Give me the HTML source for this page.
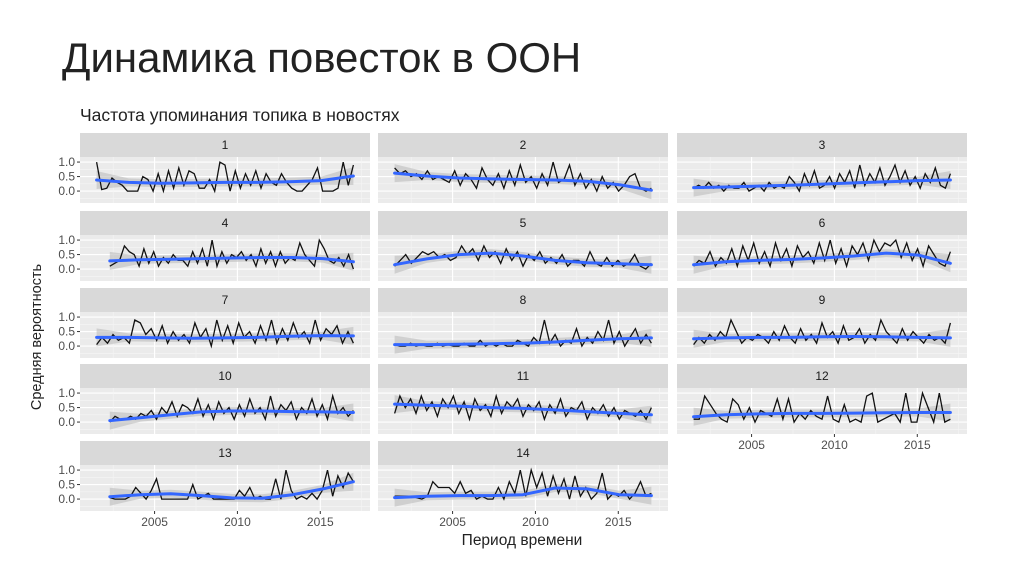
<!DOCTYPE html>
<html><head><meta charset="utf-8">
<style>
body{margin:0;background:#fff;width:1024px;height:574px;overflow:hidden;font-family:"Liberation Sans","DejaVu Sans",sans-serif;}
svg text{font-family:"Liberation Sans","DejaVu Sans",sans-serif;}
</style></head>
<body>
<svg id="chart" width="1024" height="574" xmlns="http://www.w3.org/2000/svg">
<text x="62" y="72" font-size="42" fill="#222">Динамика повесток в ООН</text>
<text x="80" y="121" font-size="17.5" fill="#222">Частота упоминания топика в новостях</text>
<text transform="translate(41,337) rotate(-90)" text-anchor="middle" font-size="14.5" fill="#222">Средняя вероятность</text>
<text x="522" y="545" text-anchor="middle" font-size="15.5" fill="#222">Период времени</text>
<g id="panels"></g>
</svg>
<script>
const panelIds=["1","2","3","4","5","6","7","8","9","10","11","12","13","14"];
const startYears=[2001.5,2001.5,2001.5,2002.3,2001.5,2001.5,2001.5,2001.5,2001.5,2002.3,2001.5,2001.5,2002.3,2001.5];
const endYears=[2017,2017,2017,2017,2017,2017,2017,2017,2017,2017,2017,2017,2017,2017];
const series=[
[1.0,0.05,0.1,0.45,0.3,0.2,0,0,0,0.5,0.4,0,0.6,0,0.7,0.1,0.8,0.2,0.7,0.6,0.1,0.1,0.4,0,1.0,0.9,0,0.7,0.1,0.6,0.2,0.7,0.1,0.6,0.3,0.2,0.6,0.3,0.1,0,0,0.2,0.4,0.8,0,0,0,0.1,1.0,0.2,0.9],
[0.8,0.6,0.7,0.5,0.6,0.4,0.7,0.4,0.5,0.4,0.3,0.7,0.2,0.6,0.4,0.1,0.8,0.4,0.2,0.6,0.1,0.7,0.2,0.9,0.3,0.5,0.1,0.6,0.2,1.0,0.3,0.4,0.9,0.2,0.6,0.1,0.4,0,0.5,0.1,0.3,0,0.2,0.5,0.6,0.1,0.0,0.1],
[0.1,0.2,0.1,0.3,0.1,0.2,0,0.2,0.1,0.1,0.3,0,0.1,0.2,0,0.3,0.1,0.2,0.1,0.5,0.3,0,0.6,0.2,0.7,0.1,0.2,0.5,0.1,0.6,0.3,0.7,0.1,0.9,0.2,0.6,0.3,0.8,0.2,0.5,0.9,0.3,0.7,0.2,0.5,0.1,0.6,0.3,0.8,0.2,0.1,0.6],
[0.1,0.2,0.3,0.8,0.6,0.5,0.1,0.7,0.2,0.6,0.1,0.4,0.2,0.5,0.3,0.3,0.1,0.6,0.2,0.7,0.1,1.0,0.1,0.6,0.2,0.5,0.4,0.6,0.3,0.5,0.1,0.7,0.2,0.6,0.1,0.6,0.2,0.4,0.3,0.9,0.5,0.3,0.1,1.0,0.7,0.3,0.2,0.4,0.1,0.5,0.0],
[0.1,0.3,0.5,0.2,0.4,0.6,0.5,0.6,0.4,0.5,0.3,0.4,0.8,0.5,0.7,0.3,0.8,0.4,0.6,0.2,0.7,0.3,0.6,0.1,0.5,0.3,0.6,0.2,0.4,0.2,0.5,0.1,0.3,0.3,0.1,0.6,0.2,0.1,0.4,0.1,0.3,0.1,0.2,0.5,0.1,0.0,0.2],
[0.1,0.3,0.2,0.6,0.1,0.4,0.2,0.7,0.1,0.8,0.3,0.9,0.2,0.6,0.1,0.9,0.3,0.7,0.1,0.8,0.4,0.6,0.2,0.9,0.3,1.0,0.2,0.7,0.1,0.8,0.5,0.9,0.3,1.0,0.6,0.9,0.8,1.0,0.4,0.9,0.3,0.7,0.1,0.8,0.5,0.2,0.1,0.6],
[0.05,0.3,0.1,0.4,0.2,0.3,0.1,0.9,0.8,0.4,0.6,0.2,0.7,0.1,0.5,0.2,0.4,0.1,0.8,0.3,0.6,0.0,0.9,0.2,0.7,0.1,0.8,0.3,0.5,0.1,0.7,0.2,0.9,0.1,0.6,0.2,0.8,0.3,0.5,0.1,0.9,0.2,0.6,0.4,0.7,0.1,0.5,0.1],
[0.05,0.0,0.0,0.1,0.0,0.05,0.0,0.0,0.1,0.0,0.05,0.0,0.0,0.1,0.0,0.0,0.2,0.0,0.1,0.0,0.1,0.0,0.0,0.2,0.1,0.0,0.3,0.1,0.9,0.1,0.4,0.0,0.2,0.1,0.6,0.0,0.3,0.1,0.5,0.2,0.9,0.1,0.5,0.0,0.3,0.6,0.1,0.4,0.1],
[0.05,0.3,0.1,0.4,0.2,0.5,0.3,0.9,0.5,0.1,0.3,0.2,0.4,0.3,0.1,0.5,0.2,0.7,0.3,0.1,0.6,0.2,0.4,0.1,0.8,0.3,0.5,0.1,0.7,0.2,0.3,0.6,0.1,0.4,0.2,0.9,0.5,0.3,0.1,0.6,0.2,0.5,0.3,0.1,0.4,0.2,0.3,0.1,0.8],
[0.0,0.2,0.1,0.1,0.2,0.1,0.3,0.2,0.4,0.1,0.5,0.3,0.7,0.2,0.6,0.5,0.3,0.8,0.2,0.6,0.1,0.7,0.3,0.5,0.1,0.6,0.2,0.8,0.3,0.5,0.1,0.9,0.2,0.6,0.4,0.7,0.1,0.5,0.3,0.8,0.2,0.6,0.1,0.9,0.3,0.5,0.2,0.4],
[0.3,0.9,0.5,0.8,0.3,0.9,0.4,0.7,0.2,0.8,0.5,0.9,0.3,0.7,0.1,0.8,0.4,0.6,0.2,0.9,0.3,0.7,0.5,0.8,0.2,0.6,0.4,0.7,0.1,0.6,0.3,0.8,0.2,0.5,0.4,0.7,0.1,0.5,0.3,0.6,0.2,0.5,0.1,0.4,0.3,0.2,0.4,0.1,0.5],
[0.1,0.1,0.9,0.6,0.3,0.1,0.0,0.8,0.6,0.1,0.5,0.0,0.4,0.3,0.2,0.8,0.1,0.8,0.0,0.3,0.1,0.4,0.2,0.1,0.9,0.1,0.0,0.6,0.0,0.1,0.0,0.9,1.0,0.0,0.1,0.2,0.3,0.0,1.0,0.0,0.0,1.0,0.5,0.0,1.0,0.0,0.1],
[0.05,0.0,0.0,0.0,0.1,0.4,0.2,0.0,0.3,0.7,0.0,0.0,0.0,0.0,0.0,0.0,0.5,0.0,0.1,0.2,0.0,0.0,0.0,0.0,0.0,0.3,0.1,0.4,0.0,0.1,0.0,0.0,0.7,0.0,1.0,0.3,0.0,0.1,0.0,0.2,0.0,0.3,1.0,0.1,0.8,0.4,0.9,0.6],
[0.1,0.1,0.1,0.1,0.05,0.0,0.1,0.6,0.4,0.4,0.4,0.2,0.6,0.2,0.3,0.0,0.1,0.0,0.0,0.4,0.0,0.6,0.2,1.0,0.1,1.0,0.4,0.9,0.1,0.8,0.2,0.7,0.0,0.8,0.1,0.4,0.0,0.2,0.9,0.0,0.2,0.1,0.3,0.0,0.2,0.6,0.1,0.2]
];
const smooth=[
[0.38,0.3,0.27,0.28,0.3,0.3,0.32,0.36,0.52],
[0.62,0.52,0.45,0.42,0.4,0.38,0.34,0.22,0.03],
[0.12,0.14,0.17,0.2,0.24,0.28,0.32,0.36,0.38],
[0.28,0.32,0.34,0.36,0.38,0.4,0.4,0.36,0.25],
[0.15,0.35,0.5,0.55,0.45,0.3,0.22,0.18,0.15],
[0.15,0.25,0.3,0.33,0.38,0.45,0.55,0.48,0.2],
[0.3,0.3,0.28,0.27,0.28,0.3,0.34,0.36,0.35],
[0.05,0.05,0.06,0.08,0.1,0.14,0.2,0.25,0.28],
[0.25,0.28,0.3,0.3,0.32,0.33,0.32,0.3,0.28],
[0.05,0.15,0.25,0.35,0.38,0.38,0.36,0.35,0.33],
[0.62,0.58,0.55,0.5,0.47,0.42,0.36,0.3,0.25],
[0.18,0.25,0.28,0.3,0.3,0.31,0.32,0.33,0.33],
[0.08,0.15,0.18,0.12,0.04,0.03,0.15,0.35,0.6],
[0.05,0.1,0.12,0.12,0.15,0.38,0.35,0.15,0.12]
];
const yTicks=[0,0.5,1];
const yTickLabels=["0.0","0.5","1.0"];
const xTicks=[2005,2010,2015];

const NS="http://www.w3.org/2000/svg";
const g=document.getElementById("panels");
const colX=[80,378,677], colW=290;
const rowTop=[133,211,288,364,441], stripH=24, panelH=46;
function mk(tag,attrs,parent){const e=document.createElementNS(NS,tag);for(const k in attrs)e.setAttribute(k,attrs[k]);(parent||g).appendChild(e);return e;}
function xs(c,yr){return colX[c]+(yr-2000.5)*(colW/17.5);}
function ysc(r,v){return rowTop[r]+stripH+1+(1.14-v)*29;}
panelIds.forEach((id,i)=>{
  const r=Math.floor(i/3), c=i%3;
  const x0=colX[c], top=rowTop[r], pt=top+stripH;
  const pg=mk("g",{});
  
  
  const strip=mk("rect",{x:x0,y:top,width:colW,height:stripH,fill:"#d9d9d9"},pg);
  
  
  const st=mk("text",{x:x0+colW/2,y:top+16,"text-anchor":"middle","font-size":"12","fill":"#1a1a1a"},pg);st.textContent=id;
  
  
  mk("rect",{x:x0,y:pt,width:colW,height:panelH,fill:"#ebebeb"},pg);
  [-0.25,0.25,0.75].forEach(v=>mk("line",{x1:x0,x2:x0+colW,y1:ysc(r,v),y2:ysc(r,v),stroke:"#f5f5f5","stroke-width":0.6},pg));
  yTicks.forEach(v=>mk("line",{x1:x0,x2:x0+colW,y1:ysc(r,v),y2:ysc(r,v),stroke:"#fff","stroke-width":1.1},pg));
  [2002.5,2007.5,2012.5,2017.5].forEach(v=>mk("line",{x1:xs(c,v),x2:xs(c,v),y1:pt,y2:pt+panelH,stroke:"#f5f5f5","stroke-width":0.6},pg));
  xTicks.forEach(v=>mk("line",{x1:xs(c,v),x2:xs(c,v),y1:pt,y2:pt+panelH,stroke:"#fff","stroke-width":1.1},pg));
  if(c===0){yTicks.forEach((v,k)=>{
    mk("line",{x1:x0-3,x2:x0,y1:ysc(r,v),y2:ysc(r,v),stroke:"#333"},pg);
    const t=mk("text",{x:x0-5,y:ysc(r,v)+4,"text-anchor":"end","font-size":"12",fill:"#4d4d4d"},pg);t.textContent=yTickLabels[k];
    
    
  });}
  if(r===4||(r===3&&c===2)){xTicks.forEach(v=>{
    mk("line",{x1:xs(c,v),x2:xs(c,v),y1:pt+panelH,y2:pt+panelH+3,stroke:"#333"},pg);
    const t=mk("text",{x:xs(c,v),y:pt+panelH+15,"text-anchor":"middle","font-size":"12",fill:"#4d4d4d"},pg);t.textContent=v;
    
    
  });}
  const vals=series[i], s=startYears[i], e=endYears[i];
  const pts=vals.map((v,k)=>xs(c,s+(e-s)*k/(vals.length-1)).toFixed(1)+","+ysc(r,v).toFixed(1));
  const sm=smooth[i];
  const spts=sm.map((v,k)=>[xs(c,s+(e-s)*k/(sm.length-1)),ysc(r,v)]);
  const band=spts.map((p,k)=>{const w=(k===0||k===sm.length-1)?9:4;return [p[0],p[1]-w];}).concat(spts.slice().reverse().map((p,k)=>{const kk=sm.length-1-k;const w=(kk===0||kk===sm.length-1)?9:4;return [p[0],p[1]+w];}));
  const b=mk("polygon",{points:band.map(p=>p[0].toFixed(1)+","+p[1].toFixed(1)).join(" "),fill:"#bdbdbd","fill-opacity":0.6},pg);
  
  
  const l=mk("polyline",{points:pts.join(" "),fill:"none",stroke:"#111","stroke-width":1.3},pg);
  
  
  const sl=mk("polyline",{points:spts.map(p=>p[0].toFixed(1)+","+p[1].toFixed(1)).join(" "),fill:"none",stroke:"#3366ff","stroke-width":3,"stroke-linejoin":"round","stroke-linecap":"round"},pg);
  
  
});
</script>
</body></html>
